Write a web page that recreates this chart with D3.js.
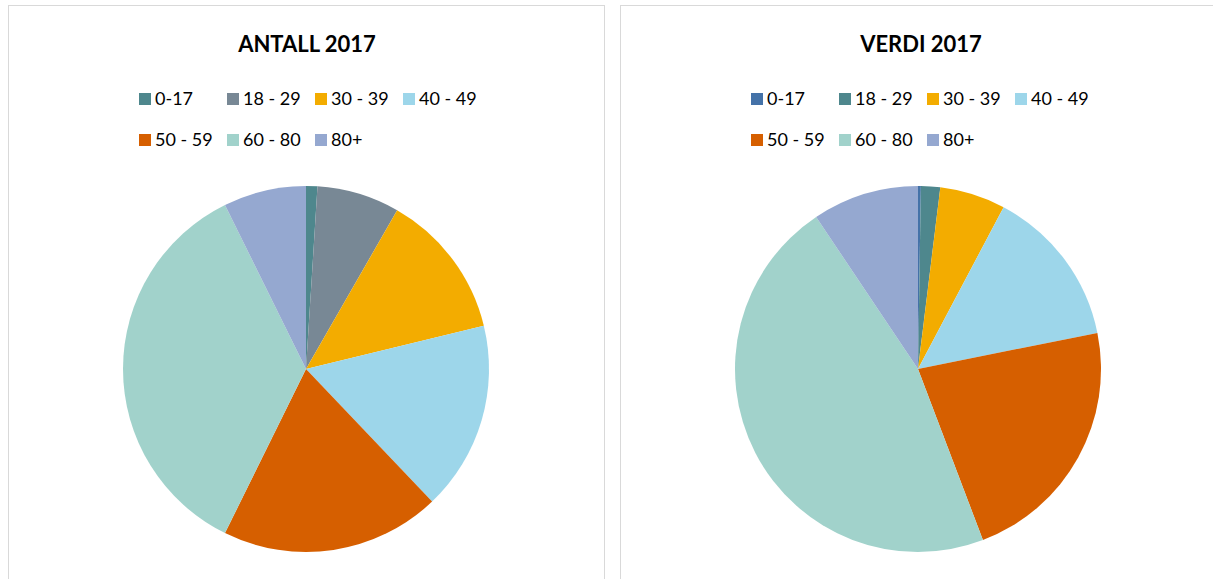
<!DOCTYPE html>
<html>
<head>
<meta charset="utf-8">
<script src="https://cdn.jsdelivr.net/npm/d3@7"></script>
<style>
  body { margin: 0; background: #fff; }
  text { font-family: Lato, "Open Sans", sans-serif; fill: #000; }
</style>
</head>
<body>
<div id="container"></div>
<script>
let w = 1213;
let h = 579;

// age groups
let categories = ["0-17", "18 - 29", "30 - 39", "40 - 49", "50 - 59", "60 - 80", "80+"];
// share in percent
let antall = [1.0, 7.3, 12.9, 16.7, 19.4, 35.4, 7.3];
let verdi = [0.25, 1.7, 5.8, 14.1, 22.4, 46.4, 9.4];

let colorsAntall = ["#4e878d", "#788895", "#f3ac00", "#9dd6ea", "#d65f00", "#a1d2cb", "#95a8d0"];
let colorsVerdi = ["#4472a8", "#4e878d", "#f3ac00", "#9dd6ea", "#d65f00", "#a1d2cb", "#95a8d0"];

let charts = [
  { title: "ANTALL 2017", values: antall, colors: colorsAntall, x: 8, width: 596 },
  { title: "VERDI 2017", values: verdi, colors: colorsVerdi, x: 620, width: 600 }
];

let viz = d3.select("#container")
  .append("svg")
    .attr("width", w)
    .attr("height", h)
    .style("display", "block")
;

let pie = d3.pie().sort(null).value(d => d);
let arc = d3.arc().innerRadius(0).outerRadius(183);

charts.forEach(function(c){
  let g = viz.append("g").attr("transform", "translate(" + c.x + ",0)");

  // panel frame
  g.append("rect")
    .attr("x", 0.5)
    .attr("y", 5.5)
    .attr("width", c.width)
    .attr("height", 600)
    .attr("fill", "none")
    .attr("stroke", "#d9d9d9")
  ;

  let cx = c.width / 2 + 1;

  g.append("text")
    .attr("x", cx)
    .attr("y", 52)
    .attr("text-anchor", "middle")
    .style("font-weight", "bold")
    .style("font-size", "22px")
    .text(c.title)
  ;

  // legend, 4 items in first row, 3 in second
  let legend = g.selectAll(".legitem").data(categories).enter()
    .append("g")
      .attr("class", "legitem")
      .attr("transform", function(d, i){
        let col = i < 4 ? i : i - 4;
        let row = i < 4 ? 0 : 1;
        return "translate(" + (131 + col * 88) + "," + (99 + row * 41) + ")";
      })
  ;
  legend.append("rect")
    .attr("x", 0)
    .attr("y", -6)
    .attr("width", 12)
    .attr("height", 12)
    .attr("fill", (d, i) => c.colors[i])
  ;
  legend.append("text")
    .attr("x", 16)
    .attr("y", 6)
    .style("font-size", "18px")
    .text(d => d)
  ;

  let pg = g.append("g").attr("transform", "translate(" + (c.width === 596 ? 298 : 298) + ",369)");
  pg.selectAll("path").data(pie(c.values)).enter()
    .append("path")
      .attr("d", arc)
      .attr("fill", (d, i) => c.colors[i])
  ;
});
</script>
</body>
</html>
